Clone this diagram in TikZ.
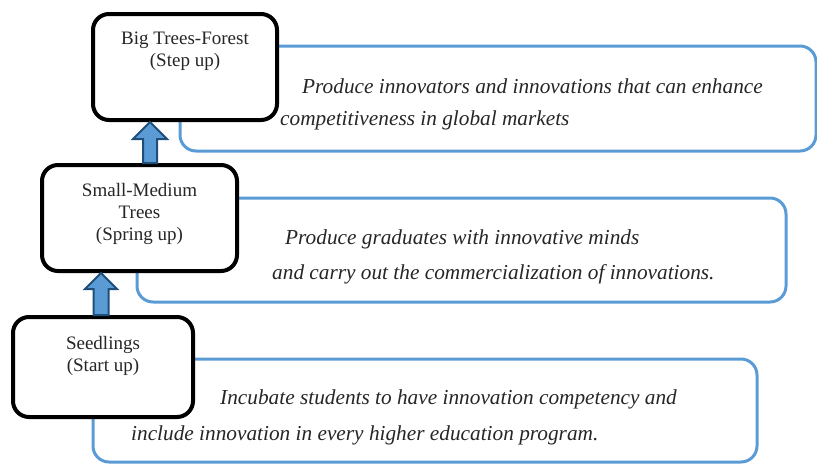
\documentclass[tikz,border=0pt]{standalone}
\usepackage{fontspec}
\setmainfont{Liberation Serif}
\usetikzlibrary{calc}
\definecolor{boxblue}{HTML}{5B9BD5}
\definecolor{arrowdark}{HTML}{1F4E79}
\definecolor{txt}{HTML}{262626}
\tikzset{
  stagebox/.style={draw=black, line width=4pt, rounded corners=16pt, fill=white,
    minimum width=#1, anchor=north, inner sep=0pt},
  stagetext/.style={text=txt, font=\fontsize{19}{22}\selectfont, align=center, anchor=north, inner sep=0pt},
  bluebox/.style={draw=boxblue, line width=3pt, rounded corners=16pt},
  desc/.style={anchor=west, text=txt, inner sep=0pt, font=\fontsize{21.3}{24}\selectfont\itshape},
  uparrow/.style={draw=arrowdark, line width=2pt, fill=boxblue, line join=miter},
}
\begin{document}
\begin{tikzpicture}[x=1pt,y=-1pt]
\useasboundingbox (0,0) rectangle (817,464);
% blue description frames
\draw[bluebox] (180,46) rectangle (816,151);
\draw[bluebox] (137,198) rectangle (786,302);
\draw[bluebox] (93,359) rectangle (757,462);
% stage boxes
\node[stagebox=184pt, minimum height=106pt] (big) at (185,12) {};
\node[stagebox=195pt, minimum height=106pt] (mid) at (139.5,163) {};
\node[stagebox=180pt, minimum height=100pt] (seed) at (103,315) {};
% stage texts
\node[stagetext] (bigt) at ($(big.north)+(0,20)$) {Big Trees-Forest\\(Step up)};
\node[stagetext] (midt) at ($(mid.north)+(0,20)$) {Small-Medium\\Trees\\(Spring up)};
\node[stagetext] (seedt) at ($(seed.north)+(0,21)$) {Seedlings\\(Start up)};
% arrows between stages
\coordinate (a1tip) at (big.south -| 150,0);
\coordinate (a1bot) at (mid.north -| 150,0);
\draw[uparrow] (a1tip) -- ($(a1tip)+(17,17)$) -- ($(a1tip)+(7,17)$) -- ($(a1bot)+(7,0)$)
  -- ($(a1bot)+(-7,0)$) -- ($(a1tip)+(-7,17)$) -- ($(a1tip)+(-17,17)$) -- cycle;
\coordinate (a2tip) at (mid.south -| 101,0);
\coordinate (a2bot) at (seed.north -| 101,0);
\draw[uparrow] (a2tip) -- ($(a2tip)+(16,16)$) -- ($(a2tip)+(7.5,16)$) -- ($(a2bot)+(7.5,0)$)
  -- ($(a2bot)+(-7.5,0)$) -- ($(a2tip)+(-7.5,16)$) -- ($(a2tip)+(-16,16)$) -- cycle;
% descriptions
\node[desc] (d1a) at (302,86) {Produce innovators and innovations that can enhance};
\node[desc] (d1b) at (280,120) {competitiveness in global markets};
\node[desc] (d2a) at (285,239) {Produce graduates with innovative minds};
\node[desc] (d2b) at (272,274) {and carry out the commercialization of innovations.};
\node[desc] (d3a) at (220,399) {Incubate students to have innovation competency and};
\node[desc] (d3b) at (131,435) {include innovation in every higher education program.};
\end{tikzpicture}
\end{document}
